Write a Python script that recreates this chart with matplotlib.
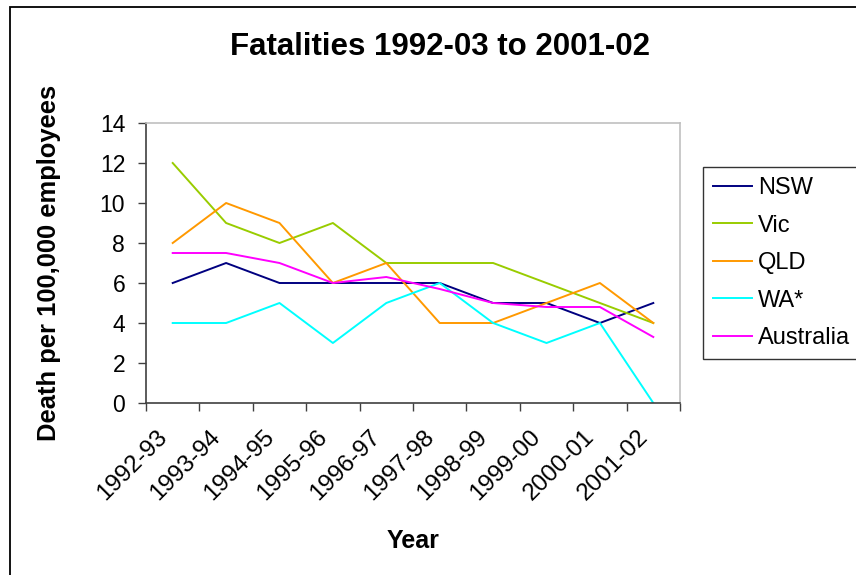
# Fatality rates by state, 1992-93 to 2001-02
import numpy as np
import matplotlib.pyplot as plt
import matplotlib.patches as patches
import matplotlib.transforms as mtransforms

years = ['1992-93', '1993-94', '1994-95', '1995-96', '1996-97',
         '1997-98', '1998-99', '1999-00', '2000-01', '2001-02']
nsw = [6, 7, 6, 6, 6, 6, 5, 5, 4, 5]
vic = [12, 9, 8, 9, 7, 7, 7, 6, 5, 4]
qld = [8, 10, 9, 6, 7, 4, 4, 5, 6, 4]
wa = [4, 4, 5, 3, 5, 6, 4, 3, 4, 0]
australia = [7.5, 7.5, 7, 6, 6.3, 5.7, 5, 4.8, 4.8, 3.3]

series = [('NSW', nsw, '#000080'),
          ('Vic', vic, '#99cc00'),
          ('QLD', qld, '#ff9900'),
          ('WA*', wa, '#00ffff'),
          ('Australia', australia, '#ff00ff')]

plt.rcParams['font.family'] = ['Liberation Sans', 'DejaVu Sans']

fig = plt.figure(figsize=(8.56, 5.75), dpi=100)
W, H = 856, 575
ax = fig.add_axes([146 / W, 1 - 403 / H, 534 / W, 280 / H])

x = np.arange(len(years))
for name, vals, col in series:
    ax.plot(x, vals, color=col, lw=1.4, label=name)

ax.set_xlim(-0.5, len(years) - 0.5)
ax.set_ylim(0, 14)
ax.set_yticks(np.arange(0, 15, 2))

# category labels at centres, tick marks between categories
ax.set_xticks(x)
ax.set_xticks(np.arange(-0.5, len(years)), minor=True)
ax.set_xticklabels(years, rotation=45, ha='right', va='center',
                   rotation_mode='anchor', fontsize=17.5)
ax.tick_params(axis='x', which='major', length=0, pad=22)
ax.tick_params(axis='x', which='minor', length=6, width=1, color='#404040')
ax.tick_params(axis='y', length=6, width=1, color='#404040', labelsize=16.5, pad=9)
shift = mtransforms.ScaledTranslation(-9 / 100, 0, fig.dpi_scale_trans)
for lab in ax.get_xticklabels():
    lab.set_transform(lab.get_transform() + shift)

for side in ['top', 'right']:
    ax.spines[side].set_color('#c0c0c0')
    ax.spines[side].set_linewidth(1.2)
for side in ['left', 'bottom']:
    ax.spines[side].set_color('#404040')
    ax.spines[side].set_linewidth(1.2)

ax.set_xlabel('Year', fontsize=18, fontweight='bold')
ax.xaxis.set_label_coords(0.5, -0.45)
ax.set_ylabel('Death per 100,000 employees', fontsize=18.4, fontweight='bold')
ax.yaxis.set_label_coords(-0.16, 0.5)

fig.text(440 / W, 1 - 47 / H, 'Fatalities 1992-03 to 2001-02',
         ha='center', va='center', fontsize=22.5, fontweight='bold')

leg = fig.legend(loc='upper left', bbox_to_anchor=(703 / W, 1 - 167 / H),
                 fontsize=17, frameon=True, fancybox=False, borderaxespad=0,
                 handlelength=1.65, handletextpad=0.25, labelspacing=0.66,
                 borderpad=0.42)
leg.get_frame().set_edgecolor('black')
leg.get_frame().set_linewidth(1.0)

# outer chart border
fig.patches.append(patches.Rectangle((10 / W, -0.05), 1.2, 1 - 7 / H + 0.05,
                                     transform=fig.transFigure, fill=False,
                                     edgecolor='black', lw=1.3))

fig.savefig('out.png', dpi=100)
